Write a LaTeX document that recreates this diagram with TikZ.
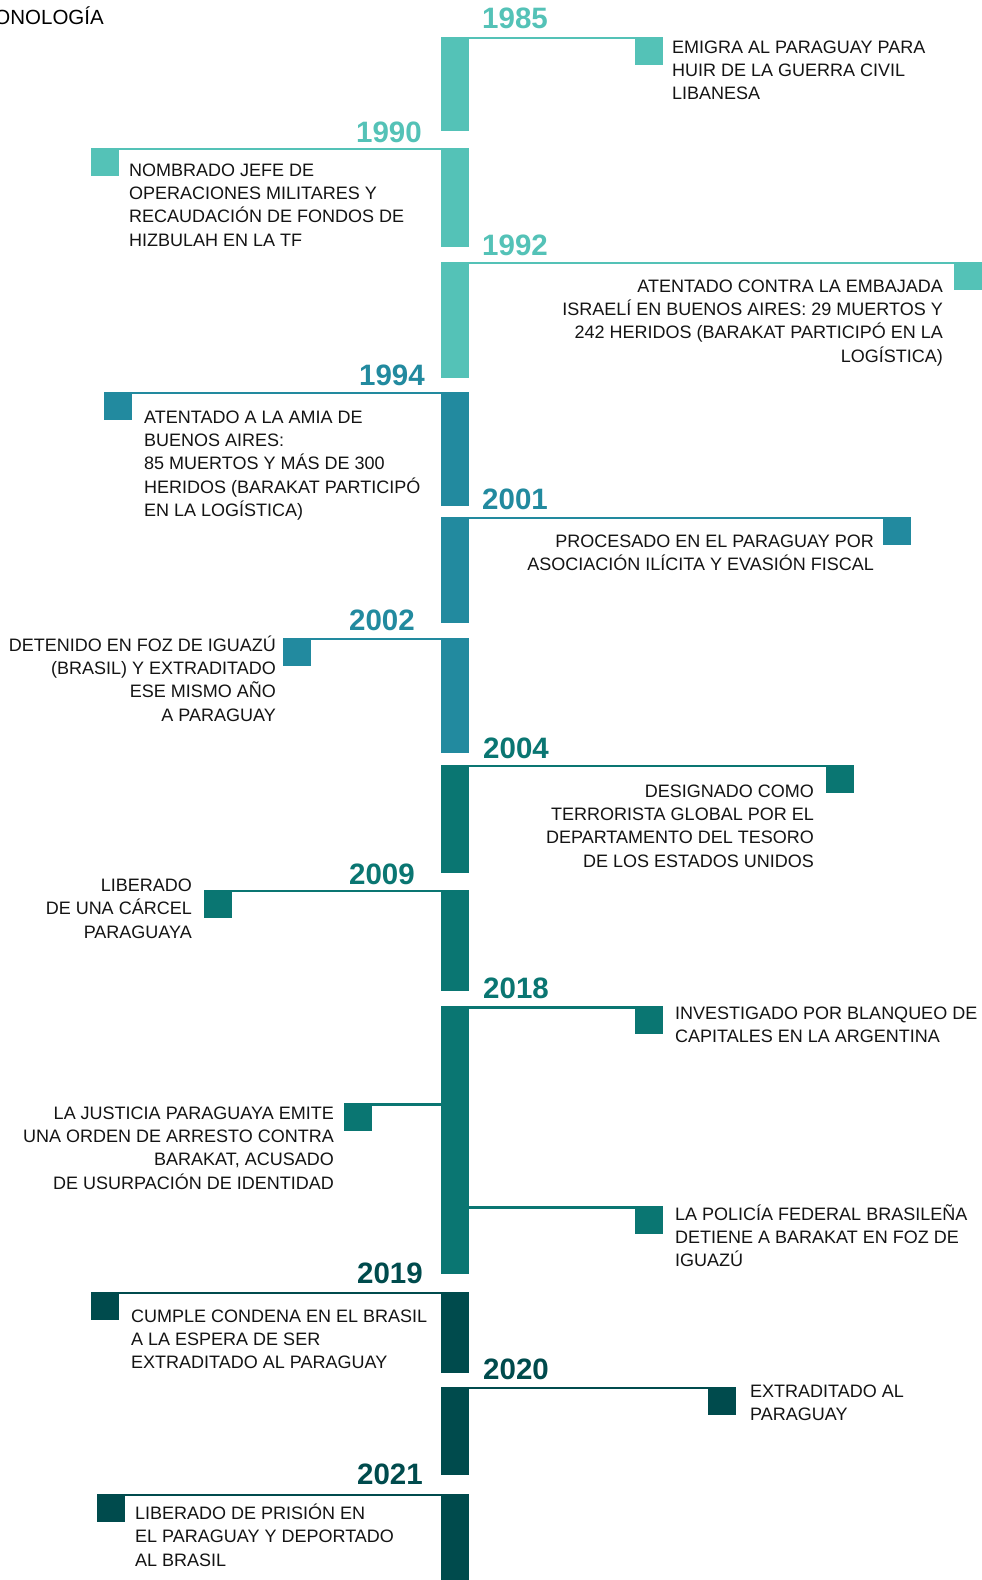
\documentclass[tikz,border=0pt]{standalone}
\usepackage{fontspec}
\setmainfont{Liberation Sans}
\definecolor{cA}{HTML}{54C2B7}
\definecolor{cB}{HTML}{228A9F}
\definecolor{cC}{HTML}{0A7672}
\definecolor{cD}{HTML}{004B4D}
\definecolor{ink}{HTML}{141414}
\newcommand\linesL[1]{\vtop{\baselineskip=23.4pt\lineskiplimit=-20pt\halign{##\hfil\cr#1\crcr}}}
\newcommand\linesR[1]{\vtop{\baselineskip=23.4pt\lineskiplimit=-20pt\halign{\hfil##\cr#1\crcr}}}
\tikzset{
  bar/.style={fill=#1, draw=none, minimum width=28pt, inner sep=0pt, outer sep=0pt, anchor=north west},
  sq/.style={fill=#1, draw=none, minimum width=28pt, minimum height=28pt, inner sep=0pt, outer sep=0pt, anchor=north west},
  conn/.style={draw=#1, line width=2.5pt},
  yr/.style={text=#1, font=\fontsize{29.5}{31}\selectfont\bfseries, inner sep=0pt},
  txt/.style={text=ink, font=\fontsize{18}{23.4}\selectfont, inner sep=0pt},
}
\begin{document}
\begin{tikzpicture}[x=1pt,y=-1pt]
\useasboundingbox (0,0) rectangle (982,1580);
\fill[white] (0,0) rectangle (982,1580);

\node[txt, text=black, font=\fontsize{20.5}{24}\selectfont, anchor=base east] (title) at (104,24) {CRONOLOGÍA};

% bars
\node[bar=cA, minimum height=93pt]  (b85) at (441,38) {};
\node[bar=cA, minimum height=98pt]  (b90) at (441,149) {};
\node[bar=cA, minimum height=115pt] (b92) at (441,263) {};
\node[bar=cB, minimum height=113pt] (b94) at (441,393) {};
\node[bar=cB, minimum height=105pt] (b01) at (441,518) {};
\node[bar=cB, minimum height=114pt] (b02) at (441,639) {};
\node[bar=cC, minimum height=107pt] (b04) at (441,766) {};
\node[bar=cC, minimum height=100pt] (b09) at (441,891) {};
\node[bar=cC, minimum height=266pt] (b18) at (441,1008) {};
\node[bar=cD, minimum height=80pt]  (b19) at (441,1293) {};
\node[bar=cD, minimum height=87pt]  (b20) at (441,1388) {};
\node[bar=cD, minimum height=90pt]  (b21) at (441,1495) {};

% squares
\node[sq=cA] (s85) at (635,36.5) {};
\node[sq=cA] (s90) at (91,147.5) {};
\node[sq=cA] (s92) at (954,261.5) {};
\node[sq=cB] (s94) at (104,391.5) {};
\node[sq=cB] (s01) at (883,516.5) {};
\node[sq=cB] (s02) at (283,637.5) {};
\node[sq=cC] (s04) at (826,764.5) {};
\node[sq=cC] (s09) at (204,889.5) {};
\node[sq=cC] (s18a) at (635,1006) {};
\node[sq=cC] (s18b) at (344,1103) {};
\node[sq=cC] (s18c) at (635,1206) {};
\node[sq=cD] (s19) at (91,1291.5) {};
\node[sq=cD] (s20) at (708,1386.5) {};
\node[sq=cD] (s21) at (97,1493.5) {};

% connectors
\draw[conn=cA] ([yshift=-1.25pt]s85.north west) -- ([yshift=-1.25pt]s85.north west -| b85.west);
\draw[conn=cA] ([yshift=-1.25pt]s90.north east) -- ([yshift=-1.25pt]s90.north east -| b90.east);
\draw[conn=cA] ([yshift=-1.25pt]s92.north west) -- ([yshift=-1.25pt]s92.north west -| b92.west);
\draw[conn=cB] ([yshift=-1.25pt]s94.north east) -- ([yshift=-1.25pt]s94.north east -| b94.east);
\draw[conn=cB] ([yshift=-1.25pt]s01.north west) -- ([yshift=-1.25pt]s01.north west -| b01.west);
\draw[conn=cB] ([yshift=-1.25pt]s02.north east) -- ([yshift=-1.25pt]s02.north east -| b02.east);
\draw[conn=cC] ([yshift=-1.25pt]s04.north west) -- ([yshift=-1.25pt]s04.north west -| b04.west);
\draw[conn=cC] ([yshift=-1.25pt]s09.north east) -- ([yshift=-1.25pt]s09.north east -| b09.east);
\draw[conn=cC] ([yshift=-1.25pt]s18a.north west) -- ([yshift=-1.25pt]s18a.north west -| b18.west);
\draw[conn=cC] ([yshift=-1.25pt]s18b.north east) -- ([yshift=-1.25pt]s18b.north east -| b18.west);
\draw[conn=cC] ([yshift=-1.25pt]s18c.north west) -- ([yshift=-1.25pt]s18c.north west -| b18.east);
\draw[conn=cD] ([yshift=-1.25pt]s19.north east) -- ([yshift=-1.25pt]s19.north east -| b19.east);
\draw[conn=cD] ([yshift=-1.25pt]s20.north west) -- ([yshift=-1.25pt]s20.north west -| b20.west);
\draw[conn=cD] ([yshift=-1.25pt]s21.north east) -- ([yshift=-1.25pt]s21.north east -| b21.east);

% years
\node[yr=cA, anchor=base west] (y85) at (482,28) {1985};
\node[yr=cA, anchor=base east] (y90) at (422,142) {1990};
\node[yr=cA, anchor=base west] (y92) at (482,255) {1992};
\node[yr=cB, anchor=base east] (y94) at (425,385) {1994};
\node[yr=cB, anchor=base west] (y01) at (482,509) {2001};
\node[yr=cB, anchor=base east] (y02) at (415,630) {2002};
\node[yr=cC, anchor=base west] (y04) at (483,758) {2004};
\node[yr=cC, anchor=base east] (y09) at (415,884) {2009};
\node[yr=cC, anchor=base west] (y18) at (483,998) {2018};
\node[yr=cD, anchor=base east] (y19) at (423,1283) {2019};
\node[yr=cD, anchor=base west] (y20) at (483,1379) {2020};
\node[yr=cD, anchor=base east] (y21) at (423,1484) {2021};

% texts
\node[txt, anchor=base west] (t85) at (672,53) {\linesL{EMIGRA AL PARAGUAY PARA\cr HUIR DE LA GUERRA CIVIL\cr LIBANESA}};
\node[txt, anchor=base west] (t90) at (129,176) {\linesL{NOMBRADO JEFE DE\cr OPERACIONES MILITARES Y\cr RECAUDACIÓN DE FONDOS DE\cr HIZBULAH EN LA TF}};
\node[txt, anchor=base east] (t92) at (943,292) {\linesR{ATENTADO CONTRA LA EMBAJADA\cr ISRAELÍ EN BUENOS AIRES: 29 MUERTOS Y\cr 242 HERIDOS (BARAKAT PARTICIPÓ EN LA\cr LOGÍSTICA)}};
\node[txt, anchor=base west] (t94) at (144,423) {\linesL{ATENTADO A LA AMIA DE\cr BUENOS AIRES:\cr 85 MUERTOS Y MÁS DE 300\cr HERIDOS (BARAKAT PARTICIPÓ\cr EN LA LOGÍSTICA)}};
\node[txt, anchor=base east] (t01) at (874,547) {\linesR{PROCESADO EN EL PARAGUAY POR\cr ASOCIACIÓN ILÍCITA Y EVASIÓN FISCAL}};
\node[txt, anchor=base east] (t02) at (276,651) {\linesR{DETENIDO EN FOZ DE IGUAZÚ\cr (BRASIL) Y EXTRADITADO\cr ESE MISMO AÑO\cr A PARAGUAY}};
\node[txt, anchor=base east] (t04) at (814,797) {\linesR{DESIGNADO COMO\cr TERRORISTA GLOBAL POR EL\cr DEPARTAMENTO DEL TESORO\cr DE LOS ESTADOS UNIDOS}};
\node[txt, anchor=base east] (t09) at (192,891.5) {\linesR{LIBERADO\cr DE UNA CÁRCEL\cr PARAGUAYA}};
\node[txt, anchor=base west] (t18a) at (675,1019) {\linesL{INVESTIGADO POR BLANQUEO DE\cr CAPITALES EN LA ARGENTINA}};
\node[txt, anchor=base east] (t18b) at (334,1119) {\linesR{LA JUSTICIA PARAGUAYA EMITE\cr UNA ORDEN DE ARRESTO CONTRA\cr BARAKAT, ACUSADO\cr DE USURPACIÓN DE IDENTIDAD}};
\node[txt, anchor=base west] (t18c) at (675,1220) {\linesL{LA POLICÍA FEDERAL BRASILEÑA\cr DETIENE A BARAKAT EN FOZ DE\cr IGUAZÚ}};
\node[txt, anchor=base west] (t19) at (131,1322) {\linesL{CUMPLE CONDENA EN EL BRASIL\cr A LA ESPERA DE SER\cr EXTRADITADO AL PARAGUAY}};
\node[txt, anchor=base west] (t20) at (750,1397) {\linesL{EXTRADITADO AL\cr PARAGUAY}};
\node[txt, anchor=base west] (t21) at (135,1519.5) {\linesL{LIBERADO DE PRISIÓN EN\cr EL PARAGUAY Y DEPORTADO\cr AL BRASIL}};
\end{tikzpicture}
\end{document}
